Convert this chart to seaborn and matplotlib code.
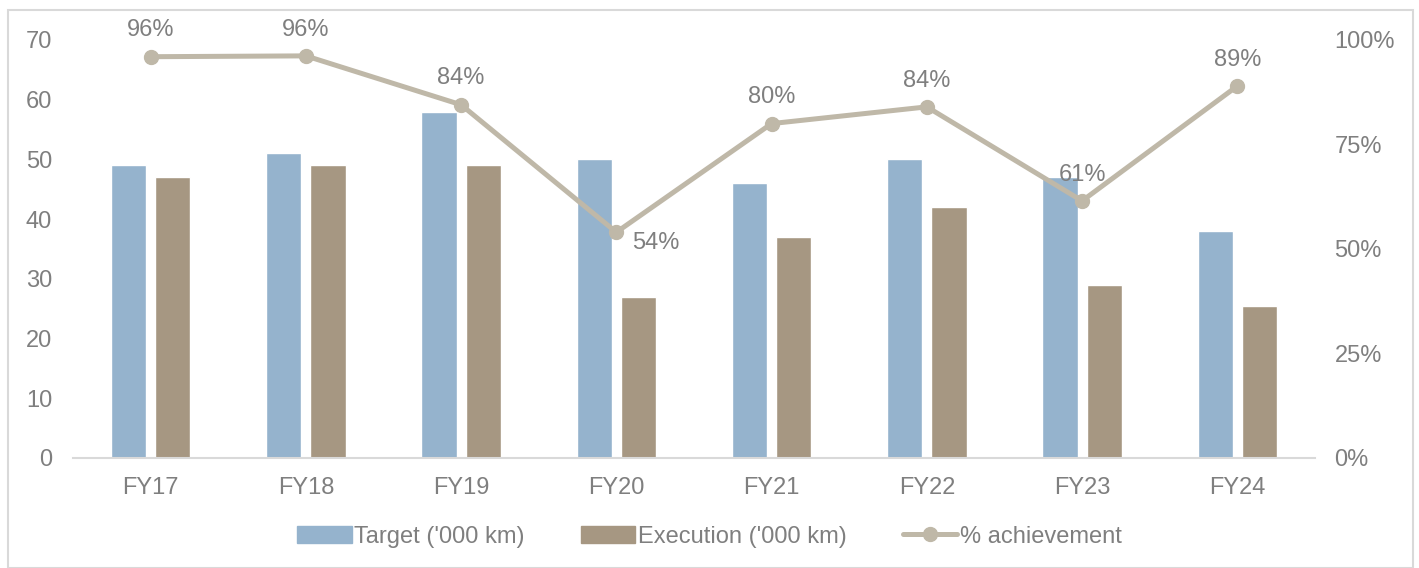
import numpy as np
import pandas as pd
import matplotlib.pyplot as plt
import seaborn as sns
from matplotlib.patches import Rectangle, Patch
from matplotlib.lines import Line2D

# data
years = ["FY17", "FY18", "FY19", "FY20", "FY21", "FY22", "FY23", "FY24"]
target = [49, 51, 58, 50, 46, 50, 47, 38]
execution = [47, 49, 49, 27, 37, 42, 29, 25.5]
achievement = [0.96, 0.962, 0.845, 0.54, 0.80, 0.84, 0.615, 0.89]
ach_labels = ["96%", "96%", "84%", "54%", "80%", "84%", "61%", "89%"]

blue = "#95B3CD"
brown = "#A69782"
line_col = "#BFB8A8"
text_col = "#7F7F7F"

sns.set_style("white")
plt.rcParams["font.family"] = ["Liberation Sans", "DejaVu Sans"]
plt.rcParams["font.size"] = 17

df = pd.DataFrame({
    "year": years * 2,
    "value": target + execution,
    "series": ["Target ('000 km)"] * len(years) + ["Execution ('000 km)"] * len(years),
})

fig = plt.figure(figsize=(14.19, 5.68), dpi=100)
ax = fig.add_axes([0.0514, 0.1937, 0.8753, 0.7359])

sns.barplot(data=df, x="year", y="value", hue="series", order=years,
            palette=[blue, brown], width=0.57, gap=0.2, ax=ax,
            saturation=1, legend=False)

ax.set_ylim(0, 70)
ax.set_xlim(-0.5, len(years) - 0.5)
ax.set_yticks(range(0, 71, 10))
ax.set_xlabel("")
ax.set_ylabel("")
ax.tick_params(axis="y", length=0, pad=15, labelcolor=text_col, labelsize=17)
ax.tick_params(axis="x", length=0, pad=14, labelcolor=text_col, labelsize=17)
for s in ["left", "right", "top"]:
    ax.spines[s].set_visible(False)
ax.spines["bottom"].set_color("#D9D9D9")
ax.spines["bottom"].set_linewidth(1.5)

ax2 = ax.twinx()
x = np.arange(len(years))
ax2.plot(x, achievement, color=line_col, lw=3.6, marker="o", ms=10, zorder=5)
ax2.set_ylim(0, 1)
ax2.set_yticks([0, 0.25, 0.5, 0.75, 1.0])
ax2.set_yticklabels(["0%", "25%", "50%", "75%", "100%"])
ax2.tick_params(axis="y", length=0, pad=14, labelcolor=text_col, labelsize=17)
for s in ["left", "right", "top", "bottom"]:
    ax2.spines[s].set_visible(False)

for i, (v, lab) in enumerate(zip(achievement, ach_labels)):
    if lab == "54%":
        ax2.annotate(lab, (i, v), xytext=(11, -8), textcoords="offset points",
                     ha="left", va="center", color=text_col, fontsize=17)
    else:
        ax2.annotate(lab, (i, v), xytext=(0, 11), textcoords="offset points",
                     ha="center", va="bottom", color=text_col, fontsize=17)

# legend
handles = [Patch(color=blue), Patch(color=brown),
           Line2D([], [], color=line_col, lw=3.6, marker="o", ms=10)]
labels = ["Target ('000 km)", "Execution ('000 km)", "% achievement"]
fig.legend(handles, labels, loc="center", bbox_to_anchor=(0.5, 0.055),
           ncol=3, frameon=False, fontsize=17, handlelength=2.3,
           handletextpad=0.1, columnspacing=2.4, labelcolor=text_col)

fig.patches.append(Rectangle((8 / 1419, 0), 1405 / 1419, 558 / 568,
                             transform=fig.transFigure, fill=False,
                             edgecolor="#D9D9D9", lw=1.5))

fig.savefig("out.png", dpi=100)
